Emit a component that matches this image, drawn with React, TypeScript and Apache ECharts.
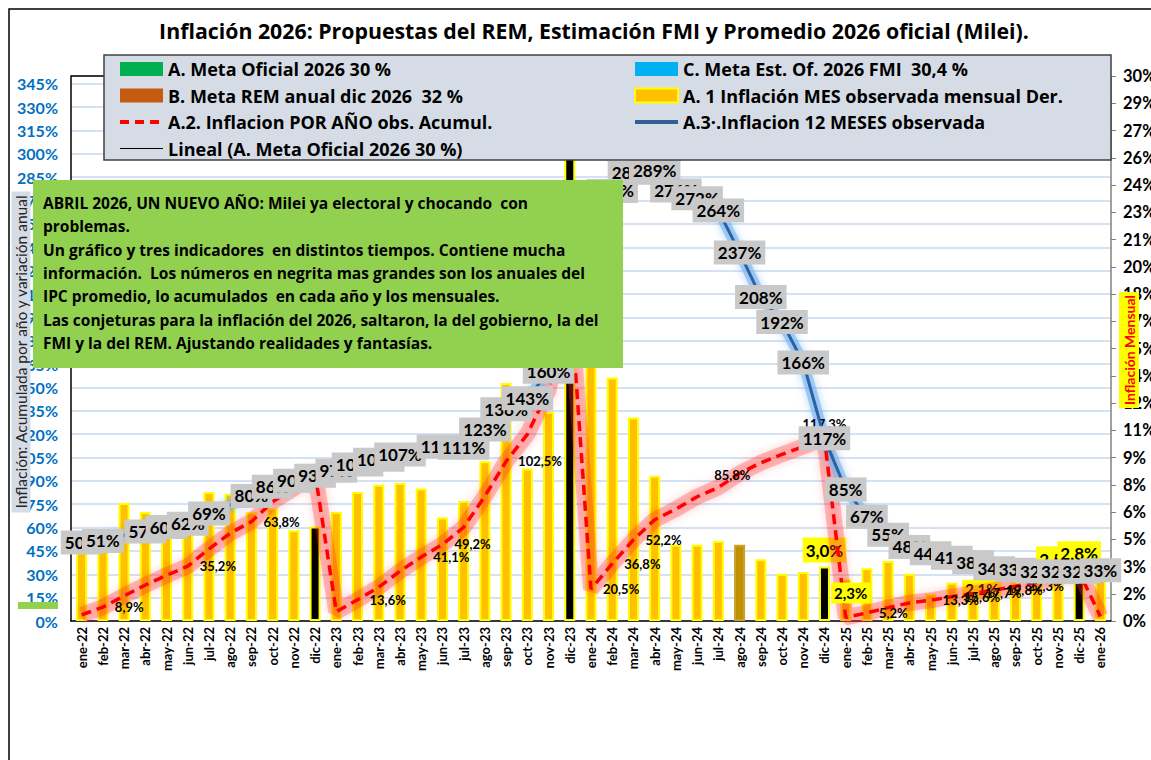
import React, { useEffect, useRef } from 'react';
import * as echarts from 'echarts';

const months = [
  'ene-22', 'feb-22', 'mar-22', 'abr-22', 'may-22', 'jun-22', 'jul-22', 'ago-22', 'sep-22', 'oct-22', 'nov-22', 'dic-22',
  'ene-23', 'feb-23', 'mar-23', 'abr-23', 'may-23', 'jun-23', 'jul-23', 'ago-23', 'sep-23', 'oct-23', 'nov-23', 'dic-23',
  'ene-24', 'feb-24', 'mar-24', 'abr-24', 'may-24', 'jun-24', 'jul-24', 'ago-24', 'sep-24', 'oct-24', 'nov-24', 'dic-24',
  'ene-25', 'feb-25', 'mar-25', 'abr-25', 'may-25', 'jun-25', 'jul-25', 'ago-25', 'sep-25', 'oct-25', 'nov-25', 'dic-25',
  'ene-26',
];

// A. 1 Inflación MES observada mensual (right axis, %)
const monthlyInflation = [
  3.9, 4.7, 6.5, 6.0, 5.1, 5.3, 7.1, 7.0, 6.0, 6.2, 5.0, 5.2,
  6.0, 7.1, 7.5, 7.6, 7.3, 5.7, 6.6, 8.8, 13.1, 8.4, 11.5, 25.5,
  20.6, 13.4, 11.2, 8.0, 4.2, 4.2, 4.4, 4.2, 3.4, 2.6, 2.7, 3.0,
  2.3, 2.9, 3.3, 2.6, 1.5, 2.1, 1.9, 2.0, 2.1, 2.3, 2.5, 2.8,
  2.9,
];

// A.2. Inflación POR AÑO acumulada (left axis, %)
const accumulatedYear = [
  3.9, 8.9, 16.1, 23.1, 29.3, 35.2, 46.2, 56.4, 63.8, 76.6, 85.3, 94.8,
  6.0, 13.6, 21.7, 32.0, 41.1, 49.2, 60.2, 80.2, 102.5, 119.9, 148.2, 211.4,
  20.5, 36.8, 52.2, 65.0, 71.9, 79.8, 85.8, 94.8, 101.6, 107.0, 112.0, 117.3,
  2.3, 5.2, 8.6, 11.6, 13.3, 15.6, 17.7, 19.8, 22.3, 24.8, 27.9, 31.5,
  2.9,
];

// A.3. Inflación 12 meses (left axis, %)
const yoyInflation = [
  50.4, 51.4, 55.1, 57.4, 60.3, 62.4, 69.0, 74.5, 80.3, 86.2, 90.1, 93.2,
  96.5, 100.5, 103.5, 107.0, 110.0, 112.0, 111.2, 123.0, 136.0, 143.0, 160.0, 211.4,
  254.2, 276.2, 287.9, 289.4, 276.4, 271.5, 263.6, 236.7, 208.0, 192.0, 166.0, 117.3,
  84.5, 66.9, 55.4, 47.6, 43.5, 40.6, 37.8, 33.8, 32.9, 31.8, 31.7, 31.6,
  32.6,
];

const darkBarIdx = [11, 23, 35, 47];
const goldBarIdx = [31];
const hiddenYoyLabelIdx = [2, 7, 16];
const redRightLabelIdx = [1, 5, 8, 13, 16, 17, 20, 24, 25, 26, 37, 40, 41, 42, 43, 44];

const noteLines = [
  'ABRIL 2026, UN NUEVO AÑO: Milei ya electoral y chocando  con',
  'problemas.',
  'Un gráfico y tres indicadores  en distintos tiempos. Contiene mucha',
  'información.  Los números en negrita mas grandes son los anuales del',
  'IPC promedio, lo acumulados  en cada año y los mensuales.',
  'Las conjeturas para la inflación del 2026, saltaron, la del gobierno, la del',
  'FMI y la del REM. Ajustando realidades y fantasías.',
];

const LEFT_AXIS_NAME = 'Inflación: Acumulada por año y variación anual';
const RIGHT_AXIS_NAME = 'Inflación Mensual';

const S_META_A = 'A. Meta Oficial 2026 30 %';
const S_META_B = 'B. Meta REM anual dic 2026  32 %';
const S_META_C = 'C. Meta Est. Of. 2026 FMI  30,4 %';
const S_MES = 'A. 1 Inflación MES observada mensual Der.';
const S_ACUM = 'A.2. Inflacion POR AÑO obs. Acumul.';
const S_12M = 'A.3·.Inflacion 12 MESES observada';
const S_LINEAL = 'Lineal (A. Meta Oficial 2026 30 %)';

const FONT = 'Lato, "Open Sans", "DejaVu Sans", sans-serif';
const WIDE = '"Open Sans", Lato, "DejaVu Sans", sans-serif';

const pct1 = (v: number) => v.toFixed(1).replace('.', ',') + '%';

const redSpecialLabels: Record<number, any> = {
  30: { position: 'top', distance: 6, offset: [14, 0] },
  35: { position: 'top', distance: 8 },
  36: { position: 'top', distance: 14, offset: [5, 0], backgroundColor: '#ffff00', fontSize: 15, padding: [3, 3] },
};

const barLabelCfg: Record<number, any> = {
  35: {},
  41: { offset: [30, 20], fontSize: 15, padding: [2, 3] },
  46: {},
  47: {},
};

export default function App() {
  const ref = useRef<HTMLDivElement>(null);

  useEffect(() => {
    if (!ref.current) return;
    const chart = echarts.init(ref.current, null, { renderer: 'svg' });

    const barData = monthlyInflation.map((v, i) => {
      const item: any = { value: v };
      if (darkBarIdx.includes(i)) item.itemStyle = { color: '#000000', borderColor: '#ffff00' };
      if (goldBarIdx.includes(i)) item.itemStyle = { color: '#bf9000', borderColor: '#c9a227' };
      if (barLabelCfg[i]) item.label = { show: true, ...barLabelCfg[i] };
      return item;
    });

    const redData = accumulatedYear.map((v, i) => {
      if (redRightLabelIdx.includes(i)) return { value: v, label: { show: true } };
      if (redSpecialLabels[i]) return { value: v, label: { show: true, ...redSpecialLabels[i] } };
      return v;
    });

    const yoyData = yoyInflation.map((v, i) =>
      hiddenYoyLabelIdx.includes(i) ? { value: v, label: { show: false } } : v
    );

    const legendText = { fontFamily: WIDE, fontWeight: 'bold', fontSize: 18, color: '#000', lineHeight: 20 };

    const option: any = {
      animation: false,
      backgroundColor: '#ffffff',
      title: {
        text: 'Inflación 2026: Propuestas del REM, Estimación FMI y Promedio 2026 oficial (Milei).',
        left: 589,
        top: 15,
        textAlign: 'center',
        textStyle: { fontFamily: WIDE, fontWeight: 'bold', fontSize: 21.3, color: '#000' },
      },
      legend: [
        {
          orient: 'vertical',
          left: 118,
          top: 59,
          padding: 0,
          itemWidth: 43,
          itemHeight: 14,
          itemGap: 6.5,
          z: 110,
          textStyle: legendText,
          data: [
            { name: S_META_A, icon: 'rect' },
            { name: S_META_B, icon: 'rect' },
            { name: S_ACUM, itemStyle: { opacity: 0 }, lineStyle: { width: 4, type: [9, 6] } },
            { name: S_LINEAL, itemStyle: { opacity: 0 }, lineStyle: { width: 1 } },
          ],
        },
        {
          orient: 'vertical',
          left: 633,
          top: 59,
          padding: 0,
          itemWidth: 43,
          itemHeight: 14,
          itemGap: 6.5,
          z: 110,
          textStyle: legendText,
          data: [
            { name: S_META_C, icon: 'rect' },
            { name: S_MES, icon: 'rect', itemStyle: { borderColor: '#ffff00', borderWidth: 2 } },
            { name: S_12M, itemStyle: { opacity: 0 }, lineStyle: { width: 4, color: '#2f5f94' } },
          ],
        },
      ],
      grid: { left: 71, right: 40, top: 76, bottom: 139, outerBoundsMode: 'none', containLabel: false },
      xAxis: {
        type: 'category',
        data: months,
        boundaryGap: true,
        axisLine: { show: true, lineStyle: { color: '#000', width: 1.5 } },
        axisTick: { show: false },
        axisLabel: {
          interval: 0,
          rotate: 90,
          margin: 6,
          fontFamily: FONT,
          fontWeight: 'bold',
          fontSize: 13,
          color: '#000',
        },
        splitLine: { show: false },
      },
      yAxis: [
        {
          type: 'value',
          min: 0,
          max: 350,
          interval: 15,
          position: 'left',
          axisLine: { show: true, lineStyle: { color: '#000', width: 1.5 } },
          axisTick: { show: false },
          axisLabel: {
            showMaxLabel: false,
            margin: 13,
            fontFamily: FONT,
            fontWeight: 'bold',
            fontSize: 16,
            color: '#0070c0',
            formatter: (v: number) => `${v}%`,
          },
          splitLine: { show: true, lineStyle: { color: '#c5d9f1', width: 1.5 } },
        },
        {
          type: 'value',
          min: 0,
          max: 30,
          interval: 1.5,
          position: 'right',
          axisLine: { show: true, lineStyle: { color: '#808080', width: 1.5 } },
          axisTick: { show: true, length: 5, lineStyle: { color: '#808080' } },
          axisLabel: {
            margin: 12,
            fontFamily: FONT,
            fontWeight: 'bold',
            fontSize: 16.5,
            color: '#000',
            formatter: (v: number) => `${Math.round(v)}%`,
          },
          splitLine: { show: false },
        },
      ],
      series: [
        {
          name: S_MES,
          type: 'bar',
          yAxisIndex: 1,
          data: barData,
          barWidth: 11,
          itemStyle: { color: '#ffc000', borderColor: '#ffff00', borderWidth: 2 },
          label: {
            show: false,
            position: 'top',
            distance: 4,
            fontFamily: FONT,
            fontWeight: 'bold',
            fontSize: 17,
            color: '#000',
            backgroundColor: '#ffff00',
            padding: [4, 3],
            formatter: (p: any) => pct1(p.value),
          },
          z: 2,
        },
        {
          name: 'glowAcum',
          type: 'line',
          yAxisIndex: 0,
          data: accumulatedYear,
          symbol: 'none',
          silent: true,
          lineStyle: { color: 'rgba(255,50,50,0.30)', width: 16, shadowBlur: 10, shadowColor: 'rgba(255,0,0,0.55)' },
          z: 3,
        },
        {
          name: 'glow12m',
          type: 'line',
          yAxisIndex: 0,
          data: yoyInflation,
          symbol: 'none',
          silent: true,
          lineStyle: { color: 'rgba(120,180,240,0.6)', width: 11, shadowBlur: 8, shadowColor: 'rgba(80,160,240,0.7)' },
          z: 4,
        },
        {
          name: S_ACUM,
          type: 'line',
          yAxisIndex: 0,
          data: redData,
          symbol: 'circle',
          symbolSize: 0,
          lineStyle: { color: '#ff0000', width: 3.5, type: [10, 6] },
          itemStyle: { color: '#ff0000' },
          label: {
            show: false,
            position: 'right',
            distance: 12,
            fontFamily: FONT,
            fontWeight: 'bold',
            fontSize: 13,
            color: '#000',
            formatter: (p: any) => pct1(p.value),
          },
          z: 5,
        },
        {
          name: S_12M,
          type: 'line',
          yAxisIndex: 0,
          data: yoyData,
          symbol: 'circle',
          symbolSize: 0,
          lineStyle: { color: '#2b63a0', width: 3 },
          itemStyle: { color: '#2b63a0' },
          label: {
            show: true,
            position: 'inside',
            fontFamily: FONT,
            fontWeight: 'bold',
            fontSize: 17,
            color: '#000',
            backgroundColor: '#c9c9c9',
            padding: [4, 4, 3, 4],
            formatter: (p: any) => `${Math.round(p.value)}%`,
          },
          z: 6,
        },
        { name: S_META_A, type: 'line', data: [], itemStyle: { color: '#00b050' }, lineStyle: { color: '#00b050' } },
        { name: S_META_B, type: 'line', data: [], itemStyle: { color: '#c55a11' }, lineStyle: { color: '#c55a11' } },
        { name: S_META_C, type: 'line', data: [], itemStyle: { color: '#00b0f0' }, lineStyle: { color: '#00b0f0' } },
        { name: S_LINEAL, type: 'line', data: [], symbol: 'none', itemStyle: { color: '#000' }, lineStyle: { color: '#000', width: 1 } },
      ],
      graphic: [
        {
          type: 'rect',
          silent: true,
          z: 1,
          shape: { x: 9, y: 9, width: 1200, height: 800 },
          style: { fill: 'none', stroke: '#000', lineWidth: 1.5 },
        },
        {
          type: 'line',
          silent: true,
          z: 1,
          shape: { x1: 71, y1: 76, x2: 110, y2: 76 },
          style: { stroke: '#000', lineWidth: 1.5 },
        },
        {
          type: 'rect',
          silent: true,
          z: 100,
          shape: { x: 104, y: 55, width: 1007, height: 105 },
          style: { fill: '#d6dce5', stroke: '#404040', lineWidth: 1.5 },
        },
        {
          type: 'rect',
          silent: true,
          z: 100,
          shape: { x: 18, y: 602, width: 40, height: 7 },
          style: { fill: '#92d050' },
        },
        {
          type: 'text',
          silent: true,
          z: 100,
          x: 21,
          y: 352,
          rotation: Math.PI / 2,
          style: {
            text: LEFT_AXIS_NAME,
            fontFamily: FONT,
            fontSize: 15.5,
            fill: '#262626',
            backgroundColor: '#d6dce5',
            padding: [2, 3, 1, 3],
            align: 'center',
            verticalAlign: 'middle',
          },
        },
        {
          type: 'text',
          silent: true,
          z: 100,
          x: 1129,
          y: 350,
          rotation: Math.PI / 2,
          style: {
            text: RIGHT_AXIS_NAME,
            fontFamily: FONT,
            fontWeight: 'bold',
            fontSize: 14,
            fill: '#ff0000',
            backgroundColor: '#ffff00',
            padding: [3, 3, 3, 3],
            align: 'center',
            verticalAlign: 'middle',
          },
        },
        {
          type: 'group',
          x: 33,
          y: 180,
          z: 100,
          silent: true,
          children: [
            { type: 'rect', z: 100, shape: { x: 0, y: 0, width: 590, height: 188 }, style: { fill: '#92d050' } },
            {
              type: 'text',
              z: 101,
              x: 10,
              y: 11,
              style: {
                text: noteLines.join('\n'),
                fontFamily: WIDE,
                fontWeight: 'bold',
                fontSize: 15.5,
                lineHeight: 23.4,
                fill: '#000',
              },
            },
          ],
        },
      ],
    };

    chart.setOption(option);
    return () => chart.dispose();
  }, []);

  return <div ref={ref} style={{ position: 'fixed', left: 0, top: 0, width: 1151, height: 760 }} />;
}
